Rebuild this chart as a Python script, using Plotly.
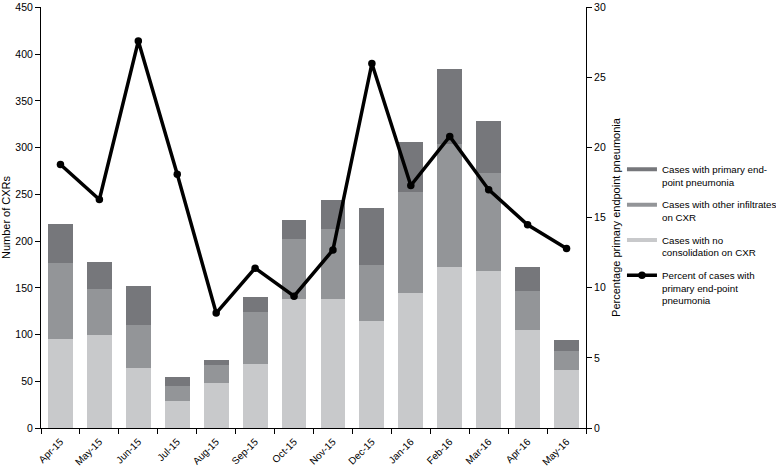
import plotly.graph_objects as go

months = ["Apr-15", "May-15", "Jun-15", "Jul-15", "Aug-15", "Sep-15", "Oct-15",
          "Nov-15", "Dec-15", "Jan-16", "Feb-16", "Mar-16", "Apr-16", "May-16"]
no_consolidation = [95, 99, 64, 29, 48, 69, 138, 138, 114, 145, 172, 168, 105, 62]
other_infiltrates = [82, 50, 46, 16, 19, 55, 64, 75, 60, 108, 132, 105, 42, 20]
primary_pneumonia = [41, 29, 42, 10, 6, 16, 21, 31, 61, 53, 80, 56, 25, 12]
percent_primary = [18.8, 16.3, 27.6, 18.1, 8.2, 11.4, 9.4, 12.7, 26.0, 17.3, 20.8, 17.0, 14.5, 12.8]

c_no = "#c8c9cb"
c_other = "#939598"
c_primary = "#76777b"
font_family = "Liberation Sans, Arial, sans-serif"

fig = go.Figure()
fig.add_trace(go.Bar(x=months, y=no_consolidation, name="Cases with no consolidation on CXR",
                     marker=dict(color=c_no, line=dict(width=0)), showlegend=False))
fig.add_trace(go.Bar(x=months, y=other_infiltrates, name="Cases with other infiltrates on CXR",
                     marker=dict(color=c_other, line=dict(width=0)), showlegend=False))
fig.add_trace(go.Bar(x=months, y=primary_pneumonia, name="Cases with primary end-point pneumonia",
                     marker=dict(color=c_primary, line=dict(width=0)), showlegend=False))
fig.add_trace(go.Scatter(x=months, y=percent_primary, yaxis="y2", mode="lines+markers",
                         name="Percent of cases with primary end-point pneumonia",
                         line=dict(color="black", width=3.5),
                         marker=dict(color="black", size=7.5), showlegend=False))

# legend entries (swatches only)
legend_items = [
    ("Cases with primary end-<br>point pneumonia", c_primary, "lines", 4),
    ("Cases with other infiltrates<br>on CXR", c_other, "lines", 4),
    ("Cases with no<br>consolidation on CXR", c_no, "lines", 4),
    ("Percent of cases with<br>primary end-point<br>pneumonia", "black", "lines+markers", 3.5),
]
for i, (name, col, mode, w) in enumerate(legend_items):
    fig.add_trace(go.Scatter(x=[None], y=[None], mode=mode, name=name, legendgroup=f"g{i}",
                             line=dict(color=col, width=w),
                             marker=dict(color=col, size=7.5), showlegend=True))

axis_common = dict(showline=True, linecolor="black", linewidth=1, ticks="outside",
                   ticklen=5, tickcolor="black", showgrid=False, zeroline=False,
                   automargin=False)

fig.update_layout(
    template="none",
    width=776, height=467,
    margin=dict(l=41, r=190, t=7, b=39, autoexpand=False),
    barmode="stack", bargap=0.36,
    plot_bgcolor="white", paper_bgcolor="white",
    font=dict(family=font_family, size=10.5, color="black"),
    xaxis=dict(axis_common, range=[-0.5, len(months) - 0.5], tickson="boundaries",
               tickangle=-45, tickfont=dict(size=10), ticklabelstandoff=3),
    yaxis=dict(axis_common, range=[0, 450.5], tickvals=list(range(0, 451, 50)),
               ticklabeloverflow="allow",
               title=dict(text="Number of CXRs", standoff=3, font=dict(size=11, color="black"))),
    yaxis2=dict(axis_common, range=[0, 30.03], tickvals=list(range(0, 31, 5)),
                overlaying="y", side="right", ticklabeloverflow="allow",
                title=dict(text="Percentage primary endpoint pneumonia", standoff=7,
                           font=dict(size=11, color="black"))),
    legend=dict(x=1.066, y=0.645, xanchor="left", yanchor="top", font=dict(size=9.75),
                bgcolor="rgba(0,0,0,0)", tracegroupgap=7, itemwidth=30, traceorder="grouped",
                valign="top"),
    showlegend=True,
)

fig.write_html("out.html", config={"displayModeBar": False},
               post_script="document.body.style.margin='0px';")
